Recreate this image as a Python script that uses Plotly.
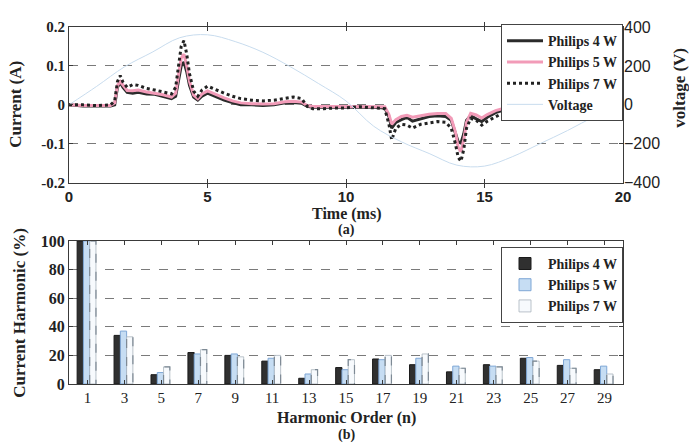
import plotly.graph_objects as go

# ---- (a) current waveforms and supply voltage ----
time_ms = [0.0, 0.5, 1.0, 1.5, 1.65, 1.75, 1.85, 1.95, 2.1, 2.3, 2.5, 2.8, 3.1, 3.4, 3.7,
           3.85, 3.95, 4.05, 4.15, 4.25, 4.35, 4.5, 4.65, 4.8, 5.0, 5.3, 5.6, 5.9, 6.2,
           6.6, 7.0, 7.4, 7.8, 8.1, 8.4, 8.6, 8.8, 9.2, 9.6, 10.0, 10.5, 11.0, 11.4,
           11.55, 11.65, 11.8, 12.0, 12.2, 12.4, 12.7, 13.0, 13.3, 13.6, 13.8, 13.95,
           14.05, 14.15, 14.25, 14.35, 14.5, 14.7, 14.9, 15.1, 15.4, 15.8, 16.2, 16.6,
           17.0, 17.4, 17.8, 18.1, 18.4]

current_4w = [0.0, -0.003, -0.003, -0.003, 0.0, 0.045, 0.058, 0.045, 0.032, 0.03, 0.032,
              0.028, 0.027, 0.022, 0.016, 0.022, 0.06, 0.1, 0.11, 0.085, 0.05, 0.02, 0.012,
              0.022, 0.03, 0.02, 0.012, 0.006, 0.0, 0.0, -0.002, 0.0, 0.005, 0.006, 0.004,
              -0.004, -0.006, -0.006, -0.006, -0.005, -0.005, -0.006, -0.008, -0.03, -0.06,
              -0.045, -0.038, -0.032, -0.042, -0.036, -0.03, -0.028, -0.03, -0.04, -0.07,
              -0.095, -0.098, -0.075, -0.04, -0.028, -0.036, -0.043, -0.032, -0.02, -0.01,
              -0.006, -0.004, -0.004, -0.004, -0.005, -0.004, -0.003]

current_5w = [0.0, -0.002, -0.002, -0.002, 0.005, 0.05, 0.06, 0.05, 0.037, 0.036, 0.038,
              0.033, 0.03, 0.026, 0.02, 0.03, 0.075, 0.12, 0.13, 0.1, 0.06, 0.025, 0.016,
              0.028, 0.036, 0.026, 0.018, 0.01, 0.005, 0.003, 0.002, 0.003, 0.008, 0.009,
              0.007, -0.002, -0.004, -0.004, -0.004, -0.004, -0.004, -0.004, -0.005, -0.025,
              -0.05, -0.038, -0.03, -0.027, -0.032, -0.028, -0.024, -0.022, -0.022, -0.035,
              -0.07, -0.11, -0.12, -0.09, -0.045, -0.022, -0.026, -0.034, -0.025, -0.015,
              -0.007, -0.003, -0.002, -0.002, -0.002, -0.003, -0.002, 0.0]

current_7w = [0.0, 0.0, -0.002, 0.0, 0.01, 0.06, 0.075, 0.058, 0.045, 0.052, 0.05, 0.042,
              0.038, 0.032, 0.028, 0.045, 0.1, 0.15, 0.165, 0.13, 0.08, 0.035, 0.022, 0.038,
              0.048, 0.038, 0.03, 0.022, 0.016, 0.012, 0.01, 0.012, 0.016, 0.02, 0.016,
              -0.004, -0.01, -0.01, -0.008, -0.008, -0.005, -0.008, -0.01, -0.05, -0.09,
              -0.06, -0.05, -0.052, -0.06, -0.05, -0.046, -0.043, -0.045, -0.06, -0.1,
              -0.135, -0.145, -0.115, -0.06, -0.035, -0.04, -0.052, -0.042, -0.03, -0.016,
              -0.01, -0.008, -0.008, -0.01, -0.016, -0.016, -0.01]

voltage_t = [0, 1, 2, 3, 4, 5, 6, 7, 8, 9, 10, 11, 12, 13, 14, 15, 16, 17, 18, 19, 20]
voltage_v = [0, 95, 195, 270, 345, 360, 325, 270, 195, 110, 20, -110, -190, -250, -310,
             -315, -267, -200, -132, -58, 0]

# ---- (b) harmonic spectrum ----
orders = [1, 3, 5, 7, 9, 11, 13, 15, 17, 19, 21, 23, 25, 27, 29]
harm_4w = [100, 34, 6.5, 22, 20, 16, 4, 11.5, 17.5, 13.5, 8.5, 13.5, 18, 13, 10]
harm_5w = [100, 37, 8, 21, 21, 18, 7, 10, 17, 18, 12.5, 12.5, 18.5, 17, 12.5]
harm_7w = [100, 33, 12, 24, 19, 20, 10, 17, 20, 21, 11, 12, 16, 11, 7]

SERIF = "Liberation Serif"
SANS = "Liberation Sans"
FRAME = "#3a3a3a"
GRID = "#7a7a7a"

fig = go.Figure()

fig.add_trace(go.Scatter(x=time_ms, y=current_4w, name="Philips 4 W", mode="lines",
                         line=dict(color="#2b2b2b", width=3), xaxis="x", yaxis="y",
                         legend="legend"))
fig.add_trace(go.Scatter(x=time_ms, y=current_5w, name="Philips 5 W", mode="lines",
                         line=dict(color="#f29bb8", width=3), xaxis="x", yaxis="y",
                         legend="legend"))
fig.add_trace(go.Scatter(x=time_ms, y=current_7w, name="Philips 7 W", mode="lines",
                         line=dict(color="#222222", width=3, dash="dot"), xaxis="x",
                         yaxis="y", legend="legend"))
fig.add_trace(go.Scatter(x=voltage_t, y=voltage_v, name="Voltage", mode="lines",
                         line=dict(color="#c8dcee", width=1, shape="spline"),
                         xaxis="x", yaxis="y2", legend="legend"))

BAR_W = 0.34
offsets = [-0.56, -0.22, 0.12]
fig.add_trace(go.Bar(x=orders, y=harm_4w, name="Philips 4 W", width=BAR_W,
                     offset=offsets[0], marker=dict(color="#303030",
                     line=dict(color="#1a1a1a", width=1)),
                     xaxis="x2", yaxis="y3", legend="legend2"))
fig.add_trace(go.Bar(x=orders, y=harm_5w, name="Philips 5 W", width=BAR_W,
                     offset=offsets[1], marker=dict(color="#c6ddf3",
                     line=dict(color="#7fa7d6", width=1)),
                     xaxis="x2", yaxis="y3", legend="legend2"))
fig.add_trace(go.Bar(x=orders, y=harm_7w, name="Philips 7 W", width=BAR_W,
                     offset=offsets[2], marker=dict(color="#f7fafd",
                     line=dict(color="#aab4bd", width=0.8)),
                     xaxis="x2", yaxis="y3", legend="legend2"))

# dashed outline around the 7 W bars
ox, oy = [], []
for n, v in zip(orders, harm_7w):
    x0 = n + offsets[2]
    x1 = x0 + BAR_W
    ox += [x0, x0, x1, x1, None]
    oy += [0, v, v, 0, None]
fig.add_trace(go.Scatter(x=ox, y=oy, mode="lines", showlegend=False, hoverinfo="skip",
                         line=dict(color="#7e8a95", width=1.2, dash="dash"),
                         xaxis="x2", yaxis="y3"))

axis_common = dict(showline=True, linecolor=FRAME, linewidth=1.2, mirror="allticks",
                   ticks="inside", ticklen=4, tickcolor=FRAME, zeroline=False)

legend_style = dict(x=1.0, xanchor="right", yanchor="top", bgcolor="white",
                    bordercolor="#444", borderwidth=1, tracegroupgap=0,
                    font=dict(family=SERIF, size=14, color="#222", weight="bold"),
                    itemwidth=36)

fig.update_layout(
    width=689, height=444,
    margin=dict(l=69, r=66, t=27, b=60),
    paper_bgcolor="white", plot_bgcolor="white",
    barmode="overlay",
    xaxis=dict(domain=[0, 1], range=[0, 20], tickvals=[0, 5, 10, 15, 20], anchor="y",
               showgrid=False, tickfont=dict(family=SANS, size=15, color="#222",
               weight="bold"), **axis_common),
    yaxis=dict(domain=[0.564, 1], range=[-0.2, 0.2], tickvals=[-0.2, -0.1, 0, 0.1, 0.2],
               ticktext=["-0.2", "-0.1", "0", "0.1", "0.2"], anchor="x",
               showgrid=True, gridcolor=GRID, griddash="dash", gridwidth=1,
               tickfont=dict(family=SERIF, size=15, color="#222", weight="bold"),
               **axis_common),
    yaxis2=dict(overlaying="y", side="right", range=[-400, 400],
                tickvals=[-400, -200, 0, 200, 400], anchor="x", showgrid=False,
                zeroline=False, showline=False, ticks="",
                tickfont=dict(family=SANS, size=16, color="#222")),
    xaxis2=dict(domain=[0, 1], range=[0, 30], tickvals=orders, anchor="y3",
                showgrid=False, tickfont=dict(family=SERIF, size=15, color="#222"),
                **axis_common),
    yaxis3=dict(domain=[0, 0.4006], range=[0, 100], tickvals=[0, 20, 40, 60, 80, 100],
                anchor="x2", showgrid=True, gridcolor=GRID, griddash="dash",
                tickfont=dict(family=SERIF, size=16, color="#222", weight="bold"),
                **axis_common),
    legend=dict(y=1.008, **legend_style),
    legend2=dict(y=0.384, **legend_style),
    showlegend=True,
)

title_font = dict(family=SERIF, size=16, color="#222", weight="bold")
axis_title_font = dict(family=SERIF, size=17, color="#222", weight="bold")
sub_font = dict(family=SERIF, size=14, color="#222", weight="bold")
notes = [
    dict(text="Time (ms)", x=0.5, y=0.476, textangle=0, font=title_font),
    dict(text="(a)", x=0.5, y=0.432, textangle=0, font=sub_font),
    dict(text="Harmonic Order (n)", x=0.5, y=-0.095, textangle=0, font=title_font),
    dict(text="(b)", x=0.5, y=-0.142, textangle=0, font=sub_font),
    dict(text="Current (A)", x=-0.098, y=0.784, textangle=-90, font=axis_title_font),
    dict(text="voltage (V)", x=1.103, y=0.83, textangle=-90, font=axis_title_font),
    dict(text="Current Harmonic (%)", x=-0.09, y=0.2, textangle=-90,
         font=axis_title_font),
]
for a in notes:
    fig.add_annotation(xref="paper", yref="paper", showarrow=False,
                       xanchor="center", yanchor="middle", **a)

fig.write_html("out.html")
